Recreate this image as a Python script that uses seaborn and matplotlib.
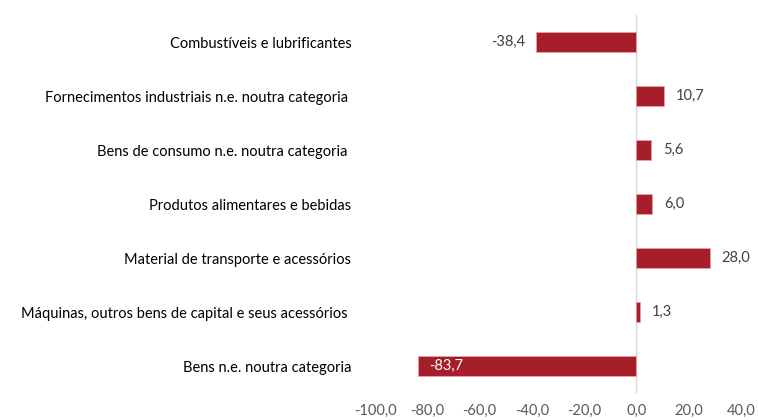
import matplotlib
matplotlib.use('Agg')
import matplotlib.pyplot as plt
import seaborn as sn
import pandas as pd

# Categories (top to bottom) and their values
categorias = ['Combustíveis e lubrificantes',
              'Fornecimentos industriais n.e. noutra categoria ',
              'Bens de consumo n.e. noutra categoria ',
              'Produtos alimentares e bebidas',
              'Material de transporte e acessórios',
              'Máquinas, outros bens de capital e seus acessórios ',
              'Bens n.e. noutra categoria']
valores = [-38.4, 10.7, 5.6, 6.0, 28.0, 1.3, -83.7]
xticks = [-100, -80, -60, -40, -20, 0, 20, 40]

df = pd.DataFrame({'cat': categorias, 'val': valores})

sn.set_style('white')
plt.rcParams['font.family'] = ['Lato', 'DejaVu Sans']

fig = plt.figure(figsize=(7.58, 4.2), dpi=100)
ax = fig.add_axes([375 / 758, 1 - 393 / 420, 366 / 758, 378 / 420])

cor = '#A61E2A'
sn.barplot(data=df, x='val', y='cat', orient='h', color=cor, width=0.37,
           edgecolor='#E8A0A6', linewidth=0.6, saturation=1, ax=ax)

ax.set_xlim(-100, 40)
ax.set_ylim(6.5, -0.5)
ax.set_xticks(xticks)
ax.set_xticklabels([f'{t:.1f}'.replace('.', ',') for t in xticks])
ax.tick_params(axis='x', colors='#595959', labelsize=10.5, length=0, pad=8)
ax.tick_params(axis='y', colors='#000000', labelsize=10.5, length=0, pad=17)
ax.set_xlabel('')
ax.set_ylabel('')
for s in ax.spines.values():
    s.set_visible(False)
ax.axvline(0, color='#D9D9D9', lw=1, zorder=0)

# value labels
for i, v in enumerate(valores):
    txt = f'{v:.1f}'.replace('.', ',')
    if v < -60:
        ax.text(v + 4.5, i, txt, ha='left', va='center', color='white', fontsize=10.5)
    elif v < 0:
        ax.text(v - 4, i, txt, ha='right', va='center', color='#404040', fontsize=10.5)
    else:
        ax.text(v + 4.5, i, txt, ha='left', va='center', color='#404040', fontsize=10.5)

fig.savefig('out.png', dpi=100)
